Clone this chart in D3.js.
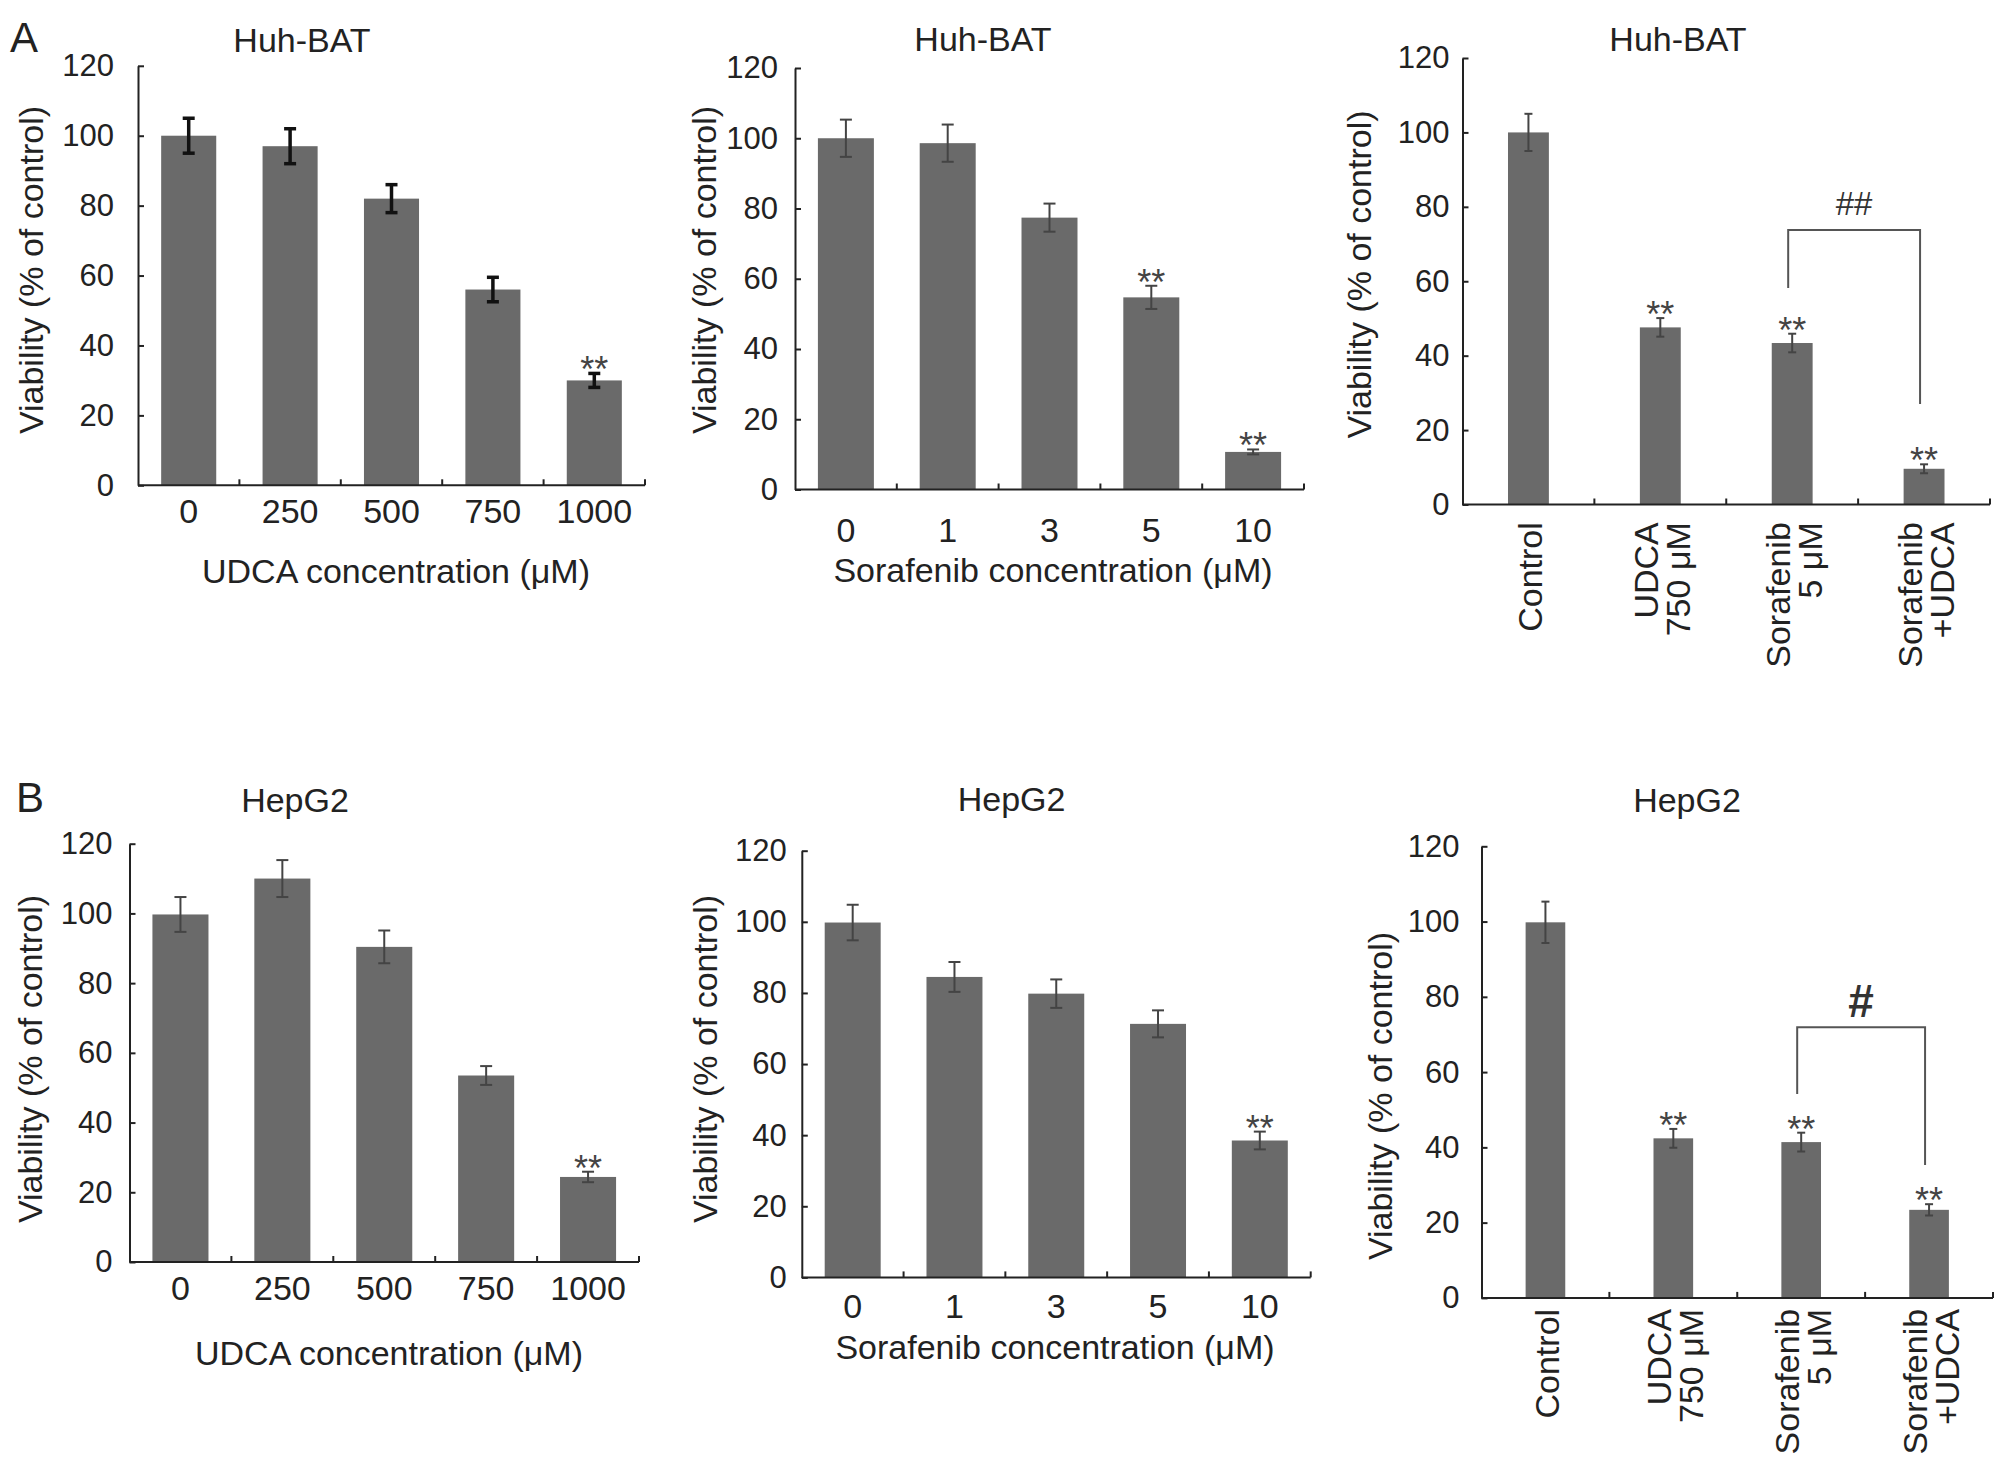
<!DOCTYPE html>
<html>
<head>
<meta charset="utf-8">
<script src="https://cdn.jsdelivr.net/npm/d3@7"></script>
<style>
  body { margin: 0; background: #fff; }
  svg { display: block; }
  text { font-family: "Liberation Sans", Arial, Helvetica, sans-serif; fill: #222; }
</style>
</head>
<body>
<svg id="chart"></svg>
<script>
// ---- data ----
let yTicks = [0, 20, 40, 60, 80, 100, 120];

let udcaLabels = ['0', '250', '500', '750', '1000'];
let soraLabels = ['0', '1', '3', '5', '10'];
let comboLabels = [['Control'], ['UDCA', '750 μM'], ['Sorafenib', '5 μM'], ['Sorafenib', '+UDCA']];

let huhUdca = [100, 97, 82, 56, 30];
let huhUdcaErr = [5, 5, 4, 3.5, 2];
let huhUdcaSig = ['', '', '', '', '**'];

let huhSora = [100, 98.6, 77.4, 54.7, 10.7];
let huhSoraErr = [5.3, 5.3, 4, 3.3, 0.7];
let huhSoraSig = ['', '', '', '**', '**'];

let huhCombo = [100, 47.6, 43.4, 9.6];
let huhComboErr = [5, 2.5, 2.5, 1.2];
let huhComboSig = ['', '**', '**', '**'];
let huhBracket = { from: 2, to: 3, top: 73.8, left: 58.2, right: 27, label: '##' };

let hepUdca = [99.7, 110, 90.4, 53.5, 24.4];
let hepUdcaErr = [5, 5.3, 4.7, 2.7, 1.5];
let hepUdcaSig = ['', '', '', '', '**'];

let hepSora = [99.8, 84.5, 79.8, 71.3, 38.5];
let hepSoraErr = [5, 4.2, 4, 3.8, 2.5];
let hepSoraSig = ['', '', '', '', '**'];

let hepCombo = [99.8, 42.4, 41.4, 23.4];
let hepComboErr = [5.5, 2.5, 2.5, 1.5];
let hepComboSig = ['', '**', '**', '**'];
let hepBracket = { from: 2, to: 3, top: 71.9, left: 54.2, right: 35.3, label: '#' };

// ---- layout ----
let width = 2008;
let height = 1469;
let barColor = '#6a6a6a';

let svg = d3.select('#chart').attr('width', width).attr('height', height);

let panels = [
  { labels: udcaLabels, values: huhUdca, errs: huhUdcaErr, sig: huhUdcaSig,
    x0: 138, x1: 645, yTop: 65.8, yBot: 485.3, pad: 0.457,
    title: 'Huh-BAT', titleX: 302, titleY: 51.7,
    yTitleX: 32, yTitleY: 270, yTickGap: 24,
    xTickOff: 25.7, xTitle: 'UDCA concentration (μM)', xTitleX: 396, xTitleY: 583,
    errW: 3.5, errColor: '#111', cap: 6 },
  { labels: soraLabels, values: huhSora, errs: huhSoraErr, sig: huhSoraSig,
    x0: 795, x1: 1304, yTop: 68, yBot: 489.5, pad: 0.45,
    title: 'Huh-BAT', titleX: 983, titleY: 51.4,
    yTitleX: 704.5, yTitleY: 270, yTickGap: 17,
    xTickOff: 40.5, xTitle: 'Sorafenib concentration (μM)', xTitleX: 1053, xTitleY: 581.5,
    errW: 2, errColor: '#444', cap: 6 },
  { labels: comboLabels, values: huhCombo, errs: huhComboErr, sig: huhComboSig, bracket: huhBracket,
    x0: 1462.5, x1: 1990, yTop: 58, yBot: 504.5, pad: 0.69,
    title: 'Huh-BAT', titleX: 1678, titleY: 51.3,
    yTitleX: 1360, yTitleY: 274.5, yTickGap: 13,
    catOff: 17.7, catGap: 32, hashSize: 33, hashWeight: 'normal',
    errW: 2, errColor: '#444', cap: 4 },
  { labels: udcaLabels, values: hepUdca, errs: hepUdcaErr, sig: hepUdcaSig,
    x0: 129.5, x1: 639, yTop: 843.7, yBot: 1262, pad: 0.45,
    title: 'HepG2', titleX: 295, titleY: 812.2,
    yTitleX: 31, yTitleY: 1059, yTickGap: 17,
    xTickOff: 26, xTitle: 'UDCA concentration (μM)', xTitleX: 389, xTitleY: 1365,
    errW: 2, errColor: '#444', cap: 6 },
  { labels: soraLabels, values: hepSora, errs: hepSoraErr, sig: hepSoraSig,
    x0: 801.8, x1: 1310.7, yTop: 850.7, yBot: 1277.4, pad: 0.45,
    title: 'HepG2', titleX: 1011.6, titleY: 811.4,
    yTitleX: 706, yTitleY: 1059, yTickGap: 15,
    xTickOff: 28.2, xTitle: 'Sorafenib concentration (μM)', xTitleX: 1055, xTitleY: 1359,
    errW: 2, errColor: '#444', cap: 6 },
  { labels: comboLabels, values: hepCombo, errs: hepComboErr, sig: hepComboSig, bracket: hepBracket,
    x0: 1481.5, x1: 1993, yTop: 846.3, yBot: 1297.9, pad: 0.69,
    title: 'HepG2', titleX: 1687, titleY: 811.9,
    yTitleX: 1381, yTitleY: 1096, yTickGap: 22,
    catOff: 11, catGap: 32, hashSize: 46, hashWeight: 'bold',
    errW: 2, errColor: '#444', cap: 4 }
];

let drawPanel = (p) => {
  let g = svg.append('g');
  let n = p.values.length;

  let xScale = d3.scaleBand()
    .domain(d3.range(n))
    .range([p.x0, p.x1])
    .paddingInner(p.pad)
    .paddingOuter(p.pad / 2);

  let yScale = d3.scaleLinear()
    .domain([0, 120])
    .range([p.yBot, p.yTop]);

  let cx = i => xScale(i) + xScale.bandwidth() / 2;

  // bars
  g.selectAll('rect.bar')
    .data(p.values)
    .enter()
    .append('rect')
    .attr('class', 'bar')
    .attr('x', (d, i) => xScale(i))
    .attr('width', xScale.bandwidth())
    .attr('y', d => yScale(d))
    .attr('height', d => yScale(0) - yScale(d))
    .attr('fill', barColor);

  // error bars
  let err = g.selectAll('g.err')
    .data(p.values)
    .enter()
    .append('g')
    .attr('stroke', p.errColor)
    .attr('stroke-width', p.errW);

  err.append('line')
    .attr('x1', (d, i) => cx(i))
    .attr('x2', (d, i) => cx(i))
    .attr('y1', (d, i) => yScale(d - p.errs[i]))
    .attr('y2', (d, i) => yScale(d + p.errs[i]));
  err.append('line')
    .attr('x1', (d, i) => cx(i) - p.cap)
    .attr('x2', (d, i) => cx(i) + p.cap)
    .attr('y1', (d, i) => yScale(d + p.errs[i]))
    .attr('y2', (d, i) => yScale(d + p.errs[i]));
  err.append('line')
    .attr('x1', (d, i) => cx(i) - p.cap)
    .attr('x2', (d, i) => cx(i) + p.cap)
    .attr('y1', (d, i) => yScale(d - p.errs[i]))
    .attr('y2', (d, i) => yScale(d - p.errs[i]));

  // significance stars
  g.selectAll('text.sig')
    .data(p.values)
    .enter()
    .append('text')
    .attr('class', 'sig')
    .attr('x', (d, i) => cx(i))
    .attr('y', (d, i) => yScale(d + p.errs[i]) + 9)
    .attr('text-anchor', 'middle')
    .style('font-size', '36px')
    .style('fill', '#444')
    .text((d, i) => p.sig[i]);

  // y axis, ticks pointing inward
  let yAxis = d3.axisLeft(yScale)
    .tickValues(yTicks)
    .tickSizeInner(-6)
    .tickSizeOuter(0)
    .tickPadding(p.yTickGap);

  let ya = g.append('g')
    .attr('transform', 'translate(' + p.x0 + ',0)')
    .call(yAxis);
  ya.select('.domain').attr('stroke', '#222').attr('stroke-width', 2);
  ya.selectAll('.tick line').attr('stroke', '#222').attr('stroke-width', 2);
  ya.selectAll('.tick text')
    .attr('fill', '#222')
    .style('font-size', '31px')
    .style('font-family', '"Liberation Sans", Arial, sans-serif');

  // x axis
  let xAxis = d3.axisBottom(xScale).tickSize(0).tickFormat('');
  let xa = g.append('g')
    .attr('transform', 'translate(0,' + p.yBot + ')')
    .call(xAxis);
  xa.select('.domain')
    .attr('d', 'M' + p.x0 + ',0H' + p.x1)
    .attr('stroke', '#222').attr('stroke-width', 2);

  // ticks on the boundaries between categories
  let step = xScale.step();
  xa.selectAll('line.bt')
    .data(d3.range(1, n + 1))
    .enter()
    .append('line')
    .attr('x1', i => p.x0 + i * step)
    .attr('x2', i => p.x0 + i * step)
    .attr('y1', 0)
    .attr('y2', -6)
    .attr('stroke', '#222')
    .attr('stroke-width', 2);

  if (p.xTitle) {
    xa.selectAll('text.xl')
      .data(p.labels)
      .enter()
      .append('text')
      .attr('class', 'xl')
      .attr('x', (d, i) => cx(i))
      .attr('y', p.xTickOff)
      .attr('dy', '0.36em')
      .attr('text-anchor', 'middle')
      .style('font-size', '34px')
      .text(d => d);

    g.append('text')
      .attr('x', p.xTitleX)
      .attr('y', p.xTitleY)
      .attr('text-anchor', 'middle')
      .style('font-size', '34px')
      .text(p.xTitle);
  } else {
    // rotated category labels
    let catSize = 34;
    let cat = xa.selectAll('text.cat')
      .data(p.labels)
      .enter()
      .append('text')
      .attr('class', 'cat')
      .attr('text-anchor', 'end')
      .style('font-size', catSize + 'px')
      .attr('transform', (d, i) => {
        let base = cx(i) + catSize * 0.4 - (d.length - 1) * p.catGap / 2;
        return 'translate(' + base + ',' + p.catOff + ') rotate(-90)';
      });
    cat.selectAll('tspan')
      .data(d => d)
      .enter()
      .append('tspan')
      .attr('x', 0)
      .attr('y', (d, j) => j * p.catGap)
      .text(d => d);
  }

  // bracket between the two sorafenib bars
  if (p.bracket) {
    let b = p.bracket;
    let lx = cx(b.from) - 4;
    let rx = cx(b.to) - 4;
    g.append('path')
      .attr('d', 'M' + lx + ',' + yScale(b.left) + 'V' + yScale(b.top) + 'H' + rx + 'V' + yScale(b.right))
      .attr('fill', 'none')
      .attr('stroke', '#555')
      .attr('stroke-width', 2);
    g.append('text')
      .attr('x', (lx + rx) / 2)
      .attr('y', yScale(b.top) - 27)
      .attr('dy', '0.36em')
      .attr('text-anchor', 'middle')
      .style('font-size', p.hashSize + 'px')
      .style('font-weight', p.hashWeight)
      .style('fill', '#333')
      .text(b.label);
  }

  // y title
  g.append('text')
    .attr('transform', 'translate(' + p.yTitleX + ',' + p.yTitleY + ') rotate(-90)')
    .attr('dy', '0.33em')
    .attr('text-anchor', 'middle')
    .style('font-size', '34px')
    .text('Viability (% of control)');

  // panel title
  g.append('text')
    .attr('x', p.titleX)
    .attr('y', p.titleY)
    .attr('text-anchor', 'middle')
    .style('font-size', '34px')
    .text(p.title);
};

panels.forEach(drawPanel);

svg.append('text').attr('x', 10).attr('y', 52).style('font-size', '42px').text('A');
svg.append('text').attr('x', 16).attr('y', 812).style('font-size', '42px').text('B');
</script>
</body>
</html>
